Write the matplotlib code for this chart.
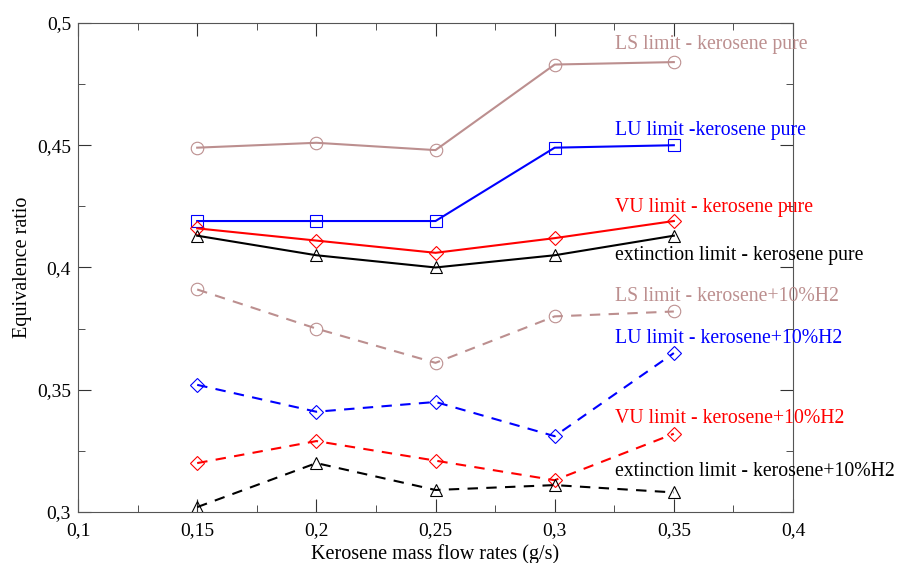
import matplotlib.pyplot as plt
from matplotlib.ticker import MultipleLocator, FuncFormatter

plt.rcParams['font.family'] = ['Liberation Serif', 'DejaVu Serif']

flow = [0.15, 0.2, 0.25, 0.3, 0.35]

ls_pure = [0.449, 0.451, 0.448, 0.483, 0.484]
lu_pure = [0.419, 0.419, 0.419, 0.449, 0.450]
vu_pure = [0.416, 0.411, 0.406, 0.412, 0.419]
ext_pure = [0.413, 0.405, 0.400, 0.405, 0.413]

ls_h2 = [0.391, 0.375, 0.361, 0.380, 0.382]
lu_h2 = [0.352, 0.341, 0.345, 0.331, 0.365]
vu_h2 = [0.320, 0.329, 0.321, 0.313, 0.332]
ext_h2 = [0.302, 0.320, 0.309, 0.311, 0.308]

labels = ["LS limit - kerosene pure", "LU limit -kerosene pure",
          "VU limit - kerosene pure", "extinction limit - kerosene pure",
          "LS limit - kerosene+10%H2", "LU limit - kerosene+10%H2",
          "VU limit - kerosene+10%H2", "extinction limit - kerosene+10%H2"]
label_y = [0.491, 0.4562, 0.4247, 0.4047, 0.3883, 0.3708, 0.3384, 0.3164]

series = [ls_pure, lu_pure, vu_pure, ext_pure, ls_h2, lu_h2, vu_h2, ext_h2]
colors = ['#bc8f8f', 'blue', 'red', 'black'] * 2
markers = ['o', 's', 'D', '^', 'o', 'D', 'D', '^']
styles = ['-'] * 4 + ['--'] * 4

fig = plt.figure(figsize=(9, 5.63), dpi=100)
ax = fig.add_axes([0.0867, 0.0906, 0.7944, 0.8686])

for ys, c, m, s in zip(series, colors, markers, styles):
    ms = 7 if m == 'D' else 9
    ax.plot(flow, ys, color=c, linestyle=s, linewidth=1.5, marker=m,
            markersize=ms, markerfacecolor='none', markeredgecolor=c,
            markeredgewidth=0.8, dashes=(5, 4) if s == '--' else (None, None))

for lab, y, c in zip(labels, label_y, colors):
    ax.text(0.3255, y, lab, color=c, fontsize=14.2, va='center', ha='left',
            clip_on=False)

ax.set_xlim(0.1, 0.4)
ax.set_ylim(0.3, 0.5)
ax.xaxis.set_major_locator(MultipleLocator(0.05))
ax.xaxis.set_minor_locator(MultipleLocator(0.025))
ax.yaxis.set_major_locator(MultipleLocator(0.05))
ax.yaxis.set_minor_locator(MultipleLocator(0.025))
fmt = FuncFormatter(lambda v, p: ('%g' % round(v, 3)).replace('.', ','))
ax.xaxis.set_major_formatter(fmt)
ax.yaxis.set_major_formatter(fmt)
ax.tick_params(which='both', direction='in', top=True, right=True,
               labelsize=14, color='#333333')
ax.tick_params(which='major', length=9.5, pad=5)
ax.tick_params(axis='x', which='major', pad=7)
ax.tick_params(which='minor', length=5)
for sp in ax.spines.values():
    sp.set_color('#555555')

ax.set_xlabel("Kerosene mass flow rates (g/s)", fontsize=14.5, labelpad=4)
ax.set_ylabel("Equivalence ratio", fontsize=14.5, labelpad=4)

fig.savefig("out.png", dpi=100)
